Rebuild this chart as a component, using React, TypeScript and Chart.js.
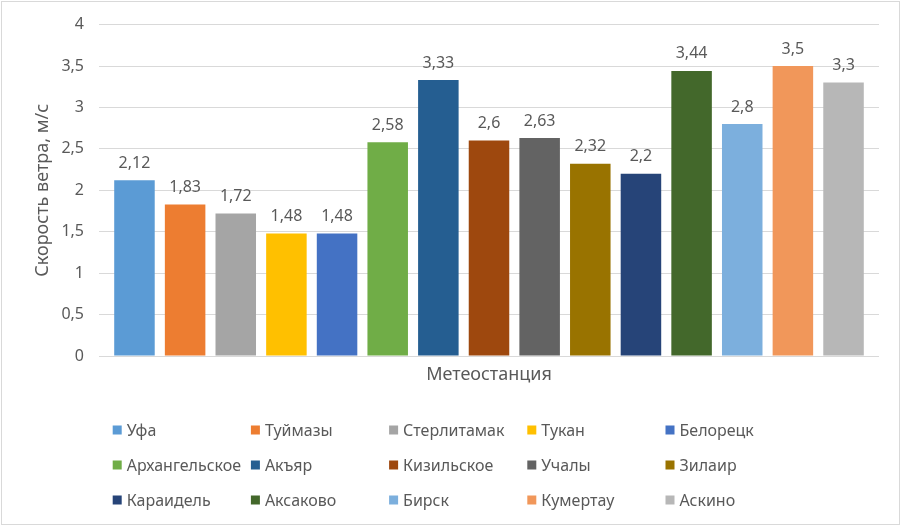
import React, { useEffect, useRef } from "react";
import { Chart, registerables } from "chart.js";

Chart.register(...registerables);

const stations = [
  "Уфа", "Туймазы", "Стерлитамак", "Тукан", "Белорецк",
  "Архангельское", "Акъяр", "Кизильское", "Учалы", "Зилаир",
  "Караидель", "Аксаково", "Бирск", "Кумертау", "Аскино",
];
const speeds = [2.12, 1.83, 1.72, 1.48, 1.48, 2.58, 3.33, 2.6, 2.63, 2.32, 2.2, 3.44, 2.8, 3.5, 3.3];
const colors = [
  "#5B9BD5", "#ED7D31", "#A5A5A5", "#FFC000", "#4472C4",
  "#70AD47", "#255E91", "#9E480E", "#636363", "#997300",
  "#264478", "#43682B", "#7CAFDD", "#F1975A", "#B7B7B7",
];
const categoryLabels = [""];
const xTitle = "Метеостанция";
const yTitle = "Скорость ветра, м/с";

const FONT = "'Noto Sans', sans-serif";
const TEXT = "#595959";
const fmt = (v: number) => String(v).replace(".", ",");

export default function App() {
  const ref = useRef<HTMLCanvasElement | null>(null);
  useEffect(() => {
    document.body.style.margin = "0";
    const canvas = ref.current!;
    const frame = {
      id: "frame",
      beforeDraw(chart: any) {
        const ctx = chart.ctx;
        ctx.save();
        ctx.fillStyle = "#ffffff";
        ctx.fillRect(0, 0, chart.width, chart.height);
        ctx.strokeStyle = "#d9d9d9";
        ctx.lineWidth = 1;
        ctx.strokeRect(1.5, 1.5, chart.width - 4, chart.height - 4);
        ctx.restore();
      },
    };
    const labelsPlugin = {
      id: "valueLabels",
      afterDatasetsDraw(chart: any) {
        const ctx = chart.ctx;
        ctx.save();
        ctx.font = `16px ${FONT}`;
        ctx.fillStyle = TEXT;
        ctx.textAlign = "center";
        ctx.textBaseline = "alphabetic";
        chart.data.datasets.forEach((ds: any, i: number) => {
          const meta = chart.getDatasetMeta(i);
          meta.data.forEach((el: any, j: number) => {
            ctx.fillText(fmt(ds.data[j]), el.x, el.y - 12.5);
          });
        });
        ctx.restore();
      },
    };
    const legendPlugin = {
      id: "gridLegend",
      afterDraw(chart: any) {
        const ctx = chart.ctx;
        ctx.save();
        ctx.font = `16px ${FONT}`;
        ctx.textAlign = "left";
        ctx.textBaseline = "middle";
        chart.data.datasets.forEach((ds: any, i: number) => {
          const col = i % 5;
          const row = Math.floor(i / 5);
          const x = 112.7 + col * 138.2;
          const y = 430 + row * 35;
          ctx.fillStyle = ds.backgroundColor;
          ctx.fillRect(x, y - 4.5, 9, 9);
          ctx.fillStyle = TEXT;
          ctx.fillText(ds.label, x + 14, y + 1);
        });
        ctx.restore();
      },
    };
    const chart = new Chart(canvas, {
      type: "bar",
      data: {
        labels: categoryLabels,
        datasets: stations.map((s, i) => ({
          label: s,
          data: [speeds[i]],
          backgroundColor: colors[i],
          borderWidth: 0,
          categoryPercentage: 0.974,
          barPercentage: 0.8,
        })),
      },
      options: {
        responsive: false,
        animation: false,
        layout: { padding: { left: 0, right: 23, top: 23, bottom: 141 } },
        plugins: {
          legend: { display: false },
          tooltip: { enabled: false },
        },
        scales: {
          x: {
            type: "category",
            grid: { display: false },
            border: { display: false },
            ticks: { display: false },
            title: {
              display: true,
              text: xTitle,
              color: TEXT,
              font: { family: FONT, size: 18 },
              padding: { top: 0, bottom: 0 },
            },
            afterFit(scale: any) {
              scale.height = 30;
            },
          },
          y: {
            min: 0,
            max: 4,
            ticks: {
              stepSize: 0.5,
              color: TEXT,
              font: { family: FONT, size: 16 },
              padding: 15,
              callback: (v: any) => fmt(Number(v)),
            },
            grid: { color: "#d9d9d9", lineWidth: 1, drawTicks: false },
            border: { display: false },
            title: {
              display: true,
              text: yTitle,
              color: TEXT,
              font: { family: FONT, size: 18 },
              padding: { top: 32, bottom: 0 },
            },
            afterFit(scale: any) {
              scale.width = 99;
            },
          },
        },
      },
      plugins: [frame, labelsPlugin, legendPlugin],
    } as any);
    return () => chart.destroy();
  }, []);
  return (
    <div style={{ position: "fixed", left: 0, top: 0, width: 902, height: 527 }}>
      <canvas ref={ref} width={902} height={527} style={{ width: 902, height: 527, display: "block" }} />
    </div>
  );
}
